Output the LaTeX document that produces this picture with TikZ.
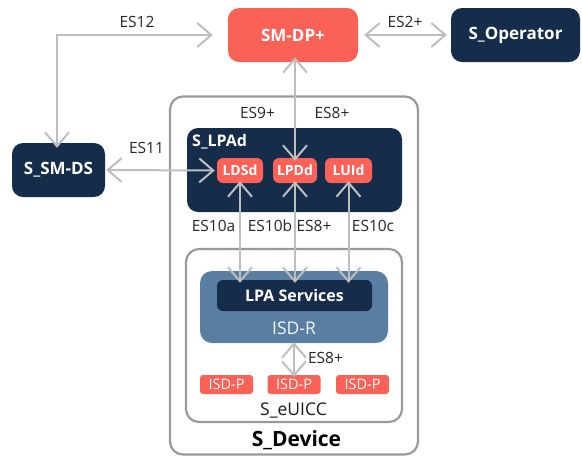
\documentclass[tikz,border=0pt]{standalone}
\usepackage{fontspec}
\setmainfont{Open Sans}
\usetikzlibrary{arrows.meta}
\definecolor{coral}{HTML}{FA6157}
\definecolor{navy}{HTML}{152C4B}
\definecolor{steel}{HTML}{5A7EA1}
\definecolor{frame}{HTML}{9A9A9A}
\definecolor{conn}{HTML}{BEBEBE}
\begin{document}
\begin{tikzpicture}[x=1pt,y=-1pt,
  blk/.style={rounded corners=11pt, inner sep=0pt, text=white, font=\fontsize{17}{20}\selectfont\bfseries},
  redblk/.style={blk, fill=coral},
  darkblk/.style={blk, fill=navy},
  small/.style={rounded corners=6pt, inner sep=0pt, fill=coral, text=white, font=\fontsize{14}{16}\selectfont\bfseries},
  isdp/.style={rounded corners=3pt, inner sep=0pt, fill=coral, text=white, minimum width=53pt, minimum height=19pt, font=\fontsize{14.5}{16}\selectfont},
  framebox/.style={draw=frame, line width=2.2pt, rounded corners=13pt, inner sep=0pt},
  lbl/.style={font=\fontsize{15.5}{18}\selectfont, text=black!85, inner sep=0pt},
  link/.style={draw=conn, line width=2pt, {Straight Barb[length=14pt 0 0,width=24pt 0 0,line width=2pt]}-{Straight Barb[length=14pt 0 0,width=24pt 0 0,line width=2pt]}},
]
\useasboundingbox (0,0) rectangle (582,459);
% outer frames
\node[framebox, minimum width=248pt, minimum height=358pt] (dev) at (294,275.5) {};
\node[framebox, minimum width=216pt, minimum height=173pt] (euicc) at (294,335.5) {};
% top row
\node[redblk, minimum width=130pt, minimum height=54pt] (smdp) at (293,35) {SM-DP+};
\node[darkblk, minimum width=129pt, minimum height=54pt] (oper) at (515.5,35) {S\_Operator};
\node[darkblk, minimum width=93pt, minimum height=54pt] (smds) at (58.5,170) {S\_SM-DS};
% LPAd
\node[darkblk, minimum width=215pt, minimum height=84pt] (lpad) at (294.5,170) {};
\node[anchor=west, text=white, inner sep=0pt, font=\fontsize{16}{18}\selectfont\bfseries] (lpadl) at (192,142) {S\_LPAd};
\node[small, minimum width=46pt, minimum height=25pt] (ldsd) at (240,170.5) {LDSd};
\node[small, minimum width=44pt, minimum height=25pt] (lpdd) at (295,170.5) {LPDd};
\node[small, minimum width=47pt, minimum height=25pt] (luid) at (348.5,170.5) {LUId};
% ISD-R
\node[rounded corners=12pt, fill=steel, minimum width=188pt, minimum height=72pt, inner sep=0pt] (isdr) at (294,307) {};
\node[rounded corners=6pt, fill=navy, minimum width=155pt, minimum height=31pt, inner sep=0pt, text=white, font=\fontsize{16}{18}\selectfont\bfseries] (lpas) at (294.5,295.5) {LPA Services};
\node[text=white!92!steel, inner sep=0pt, font=\fontsize{17.5}{20}\selectfont] (isdrl) at (294,328) {ISD-R};
% ISD-P
\node[isdp] (p1) at (226.5,384.5) {ISD-P};
\node[isdp] (p2) at (294,384.5) {ISD-P};
\node[isdp] (p3) at (362.5,384.5) {ISD-P};
% frame labels
\node[lbl, text=black!90, font=\fontsize{17.5}{20}\selectfont] (eul) at (293.5,411) {S\_eUICC};
\node[lbl, text=black, font=\fontsize{21}{24}\selectfont\bfseries] (devl) at (296.5,440) {S\_Device};
% connectors
\coordinate (c12a) at ([xshift=-15pt]smdp.west);
\coordinate (c12b) at ([yshift=-5pt,xshift=-1.5pt]smds.north);
\draw[link] (c12a) -| (c12b);
\draw[link] ([xshift=6pt]smdp.east) -- ([xshift=-4pt]oper.west);
\draw[link] ([yshift=5pt]smdp.south -| lpdd.north) -- ([yshift=-3pt]lpdd.north);
\draw[link] ([xshift=1pt]smds.east) -- ([xshift=-2pt]ldsd.west);
\draw[link] ([yshift=2pt]ldsd.south) -- ([yshift=-3pt]ldsd.south |- lpas.north);
\draw[link] ([yshift=2pt]lpdd.south) -- ([yshift=-3pt]lpdd.south |- lpas.north);
\draw[link] ([yshift=2pt]luid.south) -- ([yshift=-3pt]luid.south |- lpas.north);
\draw[link] ([yshift=1pt]isdr.south) -- ([yshift=-2pt]p2.north);
% labels
\node[lbl] (l12) at (137,22) {ES12};
\node[lbl] (l2) at (405,22) {ES2+};
\node[lbl] (l9) at (257.5,113) {ES9+};
\node[lbl] (l8a) at (332,113) {ES8+};
\node[lbl] (l11) at (146.5,148) {ES11};
\node[lbl] (l10a) at (213.5,226) {ES10a};
\node[lbl] (l10b) at (270,226) {ES10b};
\node[lbl] (l8b) at (314,226) {ES8+};
\node[lbl] (l10c) at (373,226) {ES10c};
\node[lbl] (l8c) at (325.5,358) {ES8+};
\end{tikzpicture}
\end{document}
